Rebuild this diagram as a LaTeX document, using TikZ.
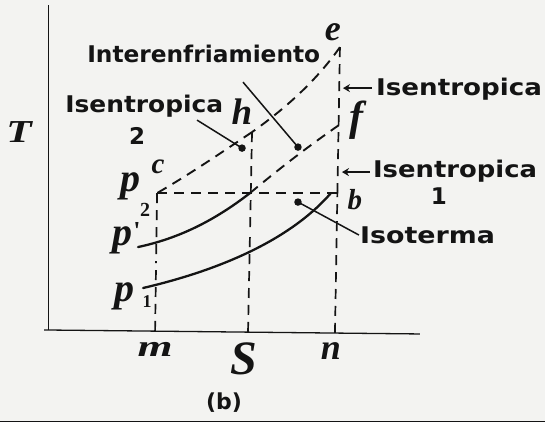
\documentclass[tikz,border=0pt]{standalone}
\usepackage{fontspec}
\setmainfont{DejaVu Sans}
\newfontfamily\vit{Liberation Serif}
\usetikzlibrary{arrows.meta,calc}
\newcommand\fitw[2]{\resizebox{#1pt}{\height}{#2}}
\definecolor{paper}{RGB}{243,243,241}
\definecolor{ink}{RGB}{20,20,20}
\begin{document}
\begin{tikzpicture}[x=1pt,y=-1pt,
  every path/.style={draw=ink},
  axis/.style={line width=1.3pt},
  scurve/.style={line width=2.3pt, line cap=round},
  dcurve/.style={line width=1.9pt, dash pattern=on 10pt off 7pt},
  dline/.style={line width=1.7pt, dash pattern=on 10pt off 7pt},
  ptr/.style={line width=1.5pt},
  arr/.style={line width=2pt, -{Stealth[length=7pt,width=8pt]}},
  dotm/.style={circle, fill=ink, draw=none, inner sep=0pt, minimum size=7.5pt},
  word/.style={inner sep=0pt, text=ink, font=\fontsize{23}{23}\selectfont\bfseries},
  letter/.style={inner sep=0pt, text=ink},
  lsz/.style={font=\fontsize{#1}{#1}\selectfont\vit\bfseries\itshape},
  usz/.style={font=\fontsize{#1}{#1}\selectfont\vit\bfseries},
]
\useasboundingbox (0,0) rectangle (545,421);
\fill[paper, draw=none] (0,0) rectangle (545,421);

% axes
\coordinate (ytop) at (48,5);
\coordinate (o) at (48,330);
\coordinate (xl) at (44,330);
\coordinate (xr) at (420,334);
\draw[axis] (ytop) -- (o);
\draw[axis] (xl) -- (xr);

% key points
\coordinate (c) at (157,193);
\coordinate (b) at (337,193);
\coordinate (k) at (250,193);
\coordinate (h) at (252,132);
\coordinate (e) at (340,47);
\coordinate (f) at (339,125);
\coordinate (mf) at (155,331);
\coordinate (sf) at (248,332);
\coordinate (nf) at (335,333);

% vertical dashed lines
\draw[dline] (c) -- ($(c)!0.5!(mf)$);
\draw[dline] (mf) -- ($(c)!0.5!(mf)$);
\draw[dline] (h) -- ($(h)!0.5!(sf)$);
\draw[dline] (sf) -- ($(h)!0.5!(sf)$);
\draw[dline] (e) -- ($(e)!0.5!(nf)$);
\draw[dline] (nf) -- ($(e)!0.5!(nf)$);
% horizontal isotherm
\draw[dline] (b) -- ($(b)!0.5!(c)$);
\draw[dline] (c) -- ($(b)!0.5!(c)$);

% p2 dashed curve
\draw[dcurve] (e) .. controls (318,78) and (290,105) .. (h);
\draw[dcurve] (h) .. controls (222,152) and (190,174) .. (c);
% p' dashed continuation
\draw[dcurve] (f) .. controls (310,145) and (280,168) .. (k);

% solid curves
\coordinate (pp0) at (138,247);
\coordinate (p10) at (143,288);
\coordinate (p1e) at (331,193);
\draw[scurve] (pp0) .. controls (180,238) and (215,220) .. (k);
\draw[scurve] (p10) .. controls (220,270) and (290,240) .. (p1e);

% labels of points
\node[letter, lsz=32] (T) at (19,132) {\scalebox{1.3}[1]{T}};
\node[letter, lsz=36] (le) at (333,32) {e};
\node[letter, lsz=37] (lh) at (242,112) {h};
\node[letter, lsz=42] (lf) at (357,120) {f};
\node[letter, lsz=29] (lc) at (158,167) {c};
\node[letter, lsz=29] (lb) at (355,200) {b};
\node[letter, lsz=40] (lp2) at (130,186) {p};
\node[letter, usz=20] (lp2s) at (145,210) {2};
\node[letter, lsz=40] (lpp) at (122,240) {p};
\node[letter, usz=26] (lppm) at (137,231) {'};
\node[letter, lsz=40] (lp1) at (124,296) {p};
\node[letter, usz=18] (lp1s) at (147,302) {1};
\node[letter, lsz=30] (lm) at (155,349) {\scalebox{1.5}[1]{m}};
\node[letter, lsz=48] (lS) at (244,359) {S};
\node[letter, lsz=36] (ln) at (331,351) {n};
\node[word, font=\fontsize{22}{22}\selectfont\bfseries] (cap) at (224,403) {(b)};

% word labels
\node[word, anchor=base west] (tInter) at (87,62) {\fitw{233}{Interenfriamiento}};
\node[word, anchor=base west] (tIs2) at (65,112) {\fitw{158}{Isentropica}};
\node[word] (t2) at (137,136) {2};
\node[word, anchor=base west] (tIsTop) at (376,95) {\fitw{166}{Isentropica}};
\node[word, anchor=base west] (tIs1) at (373,177) {\fitw{164}{Isentropica}};
\node[word] (t1) at (439,196) {1};
\node[word, anchor=base west] (tIso) at (360,243) {\fitw{135}{Isoterma}};

% pointers
\node[dotm] (d2) at (242,148) {};
\coordinate (s2) at (197,120);
\draw[ptr] (s2) -- (d2.center);
\node[dotm] (dI) at (298,147) {};
\coordinate (sI) at (243,82);
\draw[ptr] (sI) -- (dI.center);
\node[dotm] (dIso) at (298,202) {};
\coordinate (sIso) at (359,235);
\draw[ptr] (sIso) -- (dIso.center);

% arrows
\coordinate (a1s) at (372,88);
\coordinate (a1e) at (343,88);
\draw[arr] (a1s) -- (a1e);
\coordinate (a2s) at (370,172);
\coordinate (a2e) at (342,172);
\draw[arr] (a2s) -- (a2e);
\end{tikzpicture}
\end{document}
